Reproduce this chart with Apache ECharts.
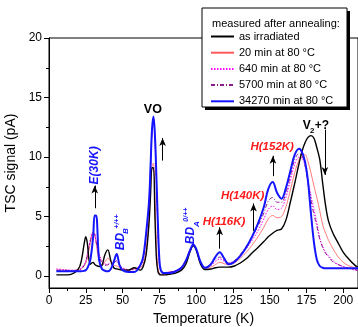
<!DOCTYPE html>
<html>
<head>
<meta charset="utf-8">
<script src="https://cdn.jsdelivr.net/npm/echarts@6/dist/echarts.min.js"></script>
<style>
  html, body { margin: 0; padding: 0; background: #fff; }
  #chart { width: 358px; height: 327px; }
</style>
</head>
<body>
<div id="chart"></div>
<script>
// temperature grid (K) shared by all curves
const temps = [
  5, 10, 15, 20, 22, 24, 25, 26, 28, 30,
  31, 32, 34, 36, 38, 40, 42, 44, 46, 48,
  50, 54, 58, 62, 64, 66, 68, 69, 70, 71,
  72, 73, 74, 75, 76, 78, 82, 86, 90, 93,
  96, 98, 100, 103, 106, 110, 113, 116, 119, 122,
  126, 130, 134, 138, 142, 146, 149, 152, 155, 158,
  161, 164, 167, 170, 172, 174, 176, 178, 180, 182,
  184, 186, 188, 190, 193, 196, 200, 204, 208, 210
];

// TSC signal (pA)
const asIrradiated = [
  0.1, 0.1, 0.15, 0.6, 1.3, 2.8, 3.3, 2.8, 1.0, 1.15,
  1.0, 0.9, 0.8, 0.9, 1.8, 2.2, 1.3, 0.7, 0.6, 0.55,
  0.5, 0.5, 0.7, 0.5, 0.8, 1.8, 4.5, 6.8, 9.1, 9.1,
  5.0, 1.5, 0.4, 0.15, 0.1, 0.1, 0.15, 0.25, 0.5, 1.0,
  2.1, 2.55, 2.2, 1.0, 0.55, 0.6, 0.7, 0.75, 0.75, 0.75,
  0.85, 1.1, 1.45, 1.95, 2.4, 2.9, 3.3, 3.6, 3.85, 3.95,
  4.7, 6.2, 7.8, 9.5, 10.5, 11.2, 11.65, 11.8, 11.6, 10.8,
  9.8, 7.8, 5.9, 4.6, 3.6, 2.9, 2.0, 1.4, 0.9, 0.75
];
const min20 = [
  0.5, 0.5, 0.45, 0.5, 0.6, 0.9, 1.1, 1.5, 2.7, 3.7,
  3.5, 2.8, 1.3, 0.9, 1.2, 1.5, 1.2, 0.9, 0.85, 0.7,
  0.6, 0.5, 0.6, 0.7, 1.0, 2.2, 5.0, 7.3, 9.2, 9.5,
  6.5, 2.5, 0.7, 0.25, 0.15, 0.1, 0.2, 0.3, 0.6, 1.1,
  2.2, 2.6, 2.2, 1.1, 0.6, 0.75, 0.95, 1.15, 1.05, 0.95,
  1.1, 1.5, 2.0, 2.6, 3.3, 4.1, 4.8, 5.1, 4.9, 5.0,
  5.8, 7.2, 8.7, 9.8, 10.2, 10.2, 9.6, 8.7, 7.6, 6.6,
  5.5, 4.3, 3.6, 3.0, 2.3, 1.7, 1.15, 0.85, 0.7, 0.65
];
const min640 = [
  0.6, 0.55, 0.5, 0.55, 0.7, 1.0, 1.3, 1.8, 3.0, 3.7,
  3.6, 3.0, 1.9, 1.3, 1.0, 1.0, 1.1, 1.2, 1.2, 0.9,
  0.7, 0.55, 0.6, 0.9, 1.4, 3.3, 6.3, 9.0, 12.0, 13.1,
  11.5, 7.8, 3.8, 1.1, 0.45, 0.3, 0.35, 0.45, 0.75, 1.3,
  2.3, 2.6, 2.25, 1.2, 0.7, 0.9, 1.2, 1.45, 1.25, 1.1,
  1.25, 1.7, 2.3, 3.0, 3.8, 4.8, 5.6, 5.9, 5.6, 5.7,
  6.6, 8.0, 9.4, 10.0, 9.9, 9.3, 8.0, 6.8, 5.6, 4.5,
  3.2, 2.5, 2.0, 1.7, 1.3, 1.0, 0.8, 0.65, 0.5, 0.45
];
const min5700 = [
  0.5, 0.5, 0.45, 0.5, 0.6, 0.9, 1.2, 1.7, 2.9, 3.6,
  3.5, 2.9, 1.7, 1.1, 0.9, 0.95, 1.0, 1.1, 1.3, 0.9,
  0.65, 0.5, 0.55, 0.9, 1.5, 3.4, 6.4, 9.1, 12.1, 13.2,
  11.6, 7.9, 3.9, 1.1, 0.45, 0.3, 0.35, 0.45, 0.75, 1.3,
  2.3, 2.6, 2.25, 1.2, 0.7, 1.0, 1.35, 1.6, 1.35, 1.1,
  1.3, 1.8, 2.5, 3.3, 4.2, 5.3, 6.3, 6.6, 6.2, 6.2,
  7.0, 8.4, 9.8, 10.3, 10.1, 9.3, 7.8, 6.4, 5.2, 4.2,
  3.1, 2.4, 1.9, 1.6, 1.2, 1.0, 0.8, 0.65, 0.55, 0.5
];
const min34270 = [
  0.4, 0.4, 0.4, 0.4, 0.4, 0.45, 0.5, 0.65, 1.3, 3.3,
  5.1, 5.1, 1.4, 0.6, 0.45, 0.4, 0.6, 1.2, 1.85, 0.9,
  0.5, 0.35, 0.35, 0.9, 1.6, 3.6, 6.3, 9.2, 12.3, 13.4,
  11.8, 8.3, 4.5, 1.4, 0.5, 0.25, 0.25, 0.4, 0.7, 1.3,
  2.2, 2.65, 2.3, 1.2, 0.7, 1.0, 1.6, 2.0, 1.5, 1.0,
  1.2, 1.7, 2.4, 3.3, 4.4, 5.8, 7.3, 7.9, 7.0, 6.5,
  7.4, 8.8, 10.2, 10.7, 10.4, 9.6, 8.0, 5.3, 2.9, 1.4,
  0.85, 0.7, 0.65, 0.65, 0.65, 0.65, 0.65, 0.65, 0.65, 0.65
];

const seriesNames = [
  'as irradiated',
  '20 min at 80 °C',
  '640 min at 80 °C',
  '5700 min at 80 °C',
  '34270 min at 80 °C'
];

const xTicks = [0, 25, 50, 75, 100, 125, 150, 175, 200];
const xMinorTicks = [12.5, 37.5, 62.5, 87.5, 112.5, 137.5, 162.5, 187.5];
const yTicks = [0, 5, 10, 15, 20];
const yMinorTicks = [2.5, 7.5, 12.5, 17.5];

// arrows: [tail, head] in data coords
const arrows = [
  [[31.1, 5.7], [31.1, 7.6]],
  [[77.2, 9.7], [77.2, 11.6]],
  [[116, 2.3], [116, 4.1]],
  [[139, 3.8], [139, 6.1]],
  [[152.2, 8.4], [152.2, 10.1]],
  [[187.5, 12.3], [187.5, 8.5]]
];

const FONT = "'Liberation Sans', Arial, sans-serif";
const BLUE = '#1414ff';
const RED = '#ff1a1a';

// peak labels, anchored in data coords; parts offset in px
const labels = [
  { at: [70.6, 14.0], color: '#000', italic: false, rot: 0, parts: [{ t: 'VO', size: 12.5 }] },
  { at: [31.1, 9.3], color: BLUE, italic: true, rot: 90, parts: [{ t: 'E(30K)', size: 12 }] },
  { at: [49.0, 2.9], color: BLUE, italic: true, rot: 90, parts: [
    { t: 'BD', size: 12 }, { t: 'B', dx: 5, dy: -10.5, size: 8 }, { t: '+/++', dx: -4.5, dy: -20, size: 7 }] },
  { at: [96.5, 3.4], color: BLUE, italic: true, rot: 90, parts: [
    { t: 'BD', size: 12 }, { t: 'A', dx: 5.5, dy: -11.5, size: 8 }, { t: '0/++', dx: -5, dy: -21, size: 7 }] },
  { at: [119, 4.6], color: RED, italic: true, rot: 0, parts: [{ t: 'H(116K)', size: 11.5 }] },
  { at: [131.6, 6.74], color: RED, italic: true, rot: 0, parts: [{ t: 'H(140K)', size: 11.5 }] },
  { at: [151.7, 10.9], color: RED, italic: true, rot: 0, parts: [{ t: 'H(152K)', size: 11.5 }] },
  { at: [175.2, 12.65], color: '#000', italic: false, rot: 0, parts: [
    { t: 'V', size: 12 }, { t: '2', dx: 5.5, dy: 5, size: 8 }, { t: '+?', dx: 15, dy: 0, size: 12 }] }
];

function pairs(ys) {
  return temps.map((t, i) => [t, ys[i]]);
}

const styles = [
  { color: '#000000', width: 1.4, type: 'solid' },
  { color: '#ff5a5a', width: 0.8, type: 'solid' },
  { color: '#ff00ff', width: 1, type: [1.5, 1.5] },
  { color: '#8b1a8b', width: 1, type: [4, 2, 1, 2] },
  { color: BLUE, width: 2, type: 'solid' }
];
const values = [asIrradiated, min20, min640, min5700, min34270];
const drawOrder = [1, 2, 3, 0, 4];

const chart = echarts.init(document.getElementById('chart'));

const series = drawOrder.map(k => {
  const s = {
    name: seriesNames[k],
    type: 'line',
    data: pairs(values[k]),
    smooth: 0.35,
    symbol: 'none',
    showSymbol: false,
    lineStyle: styles[k],
    itemStyle: { color: styles[k].color },
    z: 2 + drawOrder.indexOf(k) * 0.1
  };
  if (k === 0) {
    s.markLine = {
      silent: true,
      symbol: ['none', 'arrow'],
      symbolSize: [5, 8],
      label: { show: false },
      lineStyle: { color: '#000', width: 1, type: 'solid' },
      data: arrows.map(a => [{ coord: a[0] }, { coord: a[1] }])
    };
  }
  return s;
});

const axisCommon = {
  axisLine: { show: true, onZero: false, lineStyle: { color: '#000', width: 1 } },
  splitLine: { show: false }
};

chart.setOption({
  animation: false,
  textStyle: { fontFamily: FONT },
  grid: {
    left: 49, right: 0, top: 38, bottom: 39,
    outerBoundsMode: 'none', containLabel: false,
    show: true, borderColor: '#000', borderWidth: 1, backgroundColor: '#fff'
  },
  legend: {
    data: seriesNames,
    orient: 'vertical',
    left: 210,
    top: 31,
    itemWidth: 23,
    itemHeight: 11,
    itemGap: 5.2,
    padding: 0,
    selectedMode: false,
    z: 6,
    itemStyle: { opacity: 0 },
    textStyle: { fontSize: 11, color: '#000', fontFamily: FONT }
  },
  xAxis: [
    Object.assign({
      type: 'value', min: 0, max: 210,
      name: 'Temperature (K)', nameLocation: 'middle', nameGap: 23,
      nameTextStyle: { fontSize: 14, color: '#000', fontFamily: FONT },
      axisTick: { show: true, length: 5, customValues: xTicks, lineStyle: { color: '#000' } },
      axisLabel: { customValues: xTicks, margin: 7, fontSize: 12, color: '#000', fontFamily: FONT }
    }, axisCommon),
    {
      type: 'value', min: 0, max: 210, position: 'bottom',
      axisLine: { show: false, onZero: false },
      axisTick: { show: true, length: 3, customValues: xMinorTicks, lineStyle: { color: '#000' } },
      axisLabel: { show: false },
      splitLine: { show: false }
    }
  ],
  yAxis: [
    Object.assign({
      type: 'value', min: -1, max: 20,
      name: 'TSC signal (pA)', nameLocation: 'middle', nameGap: 27, nameRotate: 90,
      nameTextStyle: { fontSize: 14, color: '#000', fontFamily: FONT },
      axisTick: { show: true, length: 5, customValues: yTicks, lineStyle: { color: '#000' } },
      axisLabel: { customValues: yTicks, margin: 7, fontSize: 12, color: '#000', fontFamily: FONT }
    }, axisCommon),
    {
      type: 'value', min: -1, max: 20, position: 'left',
      axisLine: { show: false, onZero: false },
      axisTick: { show: true, length: 3, customValues: yMinorTicks, lineStyle: { color: '#000' } },
      axisLabel: { show: false },
      splitLine: { show: false }
    }
  ],
  series: series
});

// legend frame, title and peak labels
const graphics = [
  { type: 'rect', z: 4, silent: true, shape: { x: 205, y: 11, width: 145, height: 99 }, style: { fill: '#000' } },
  { type: 'rect', z: 5, silent: true, shape: { x: 202, y: 8, width: 145, height: 99 }, style: { fill: '#fff', stroke: '#000', lineWidth: 1 } },
  { type: 'text', z: 7, silent: true, x: 212, y: 24,
    style: { text: 'measured after annealing:', fontSize: 11, fontFamily: FONT, fill: '#000', align: 'left', verticalAlign: 'middle' } }
];

labels.forEach(lb => {
  const p = chart.convertToPixel({ xAxisIndex: 0, yAxisIndex: 0 }, lb.at);
  lb.parts.forEach(part => {
    graphics.push({
      type: 'text', z: 7, silent: true,
      x: p[0] + (part.dx || 0),
      y: p[1] + (part.dy || 0),
      rotation: lb.rot * Math.PI / 180,
      style: {
        text: part.t,
        fontSize: part.size,
        fontWeight: 'bold',
        fontStyle: lb.italic ? 'italic' : 'normal',
        fontFamily: FONT,
        fill: lb.color,
        align: 'center',
        verticalAlign: 'middle'
      }
    });
  });
});

chart.setOption({ graphic: graphics });
</script>
</body>
</html>
